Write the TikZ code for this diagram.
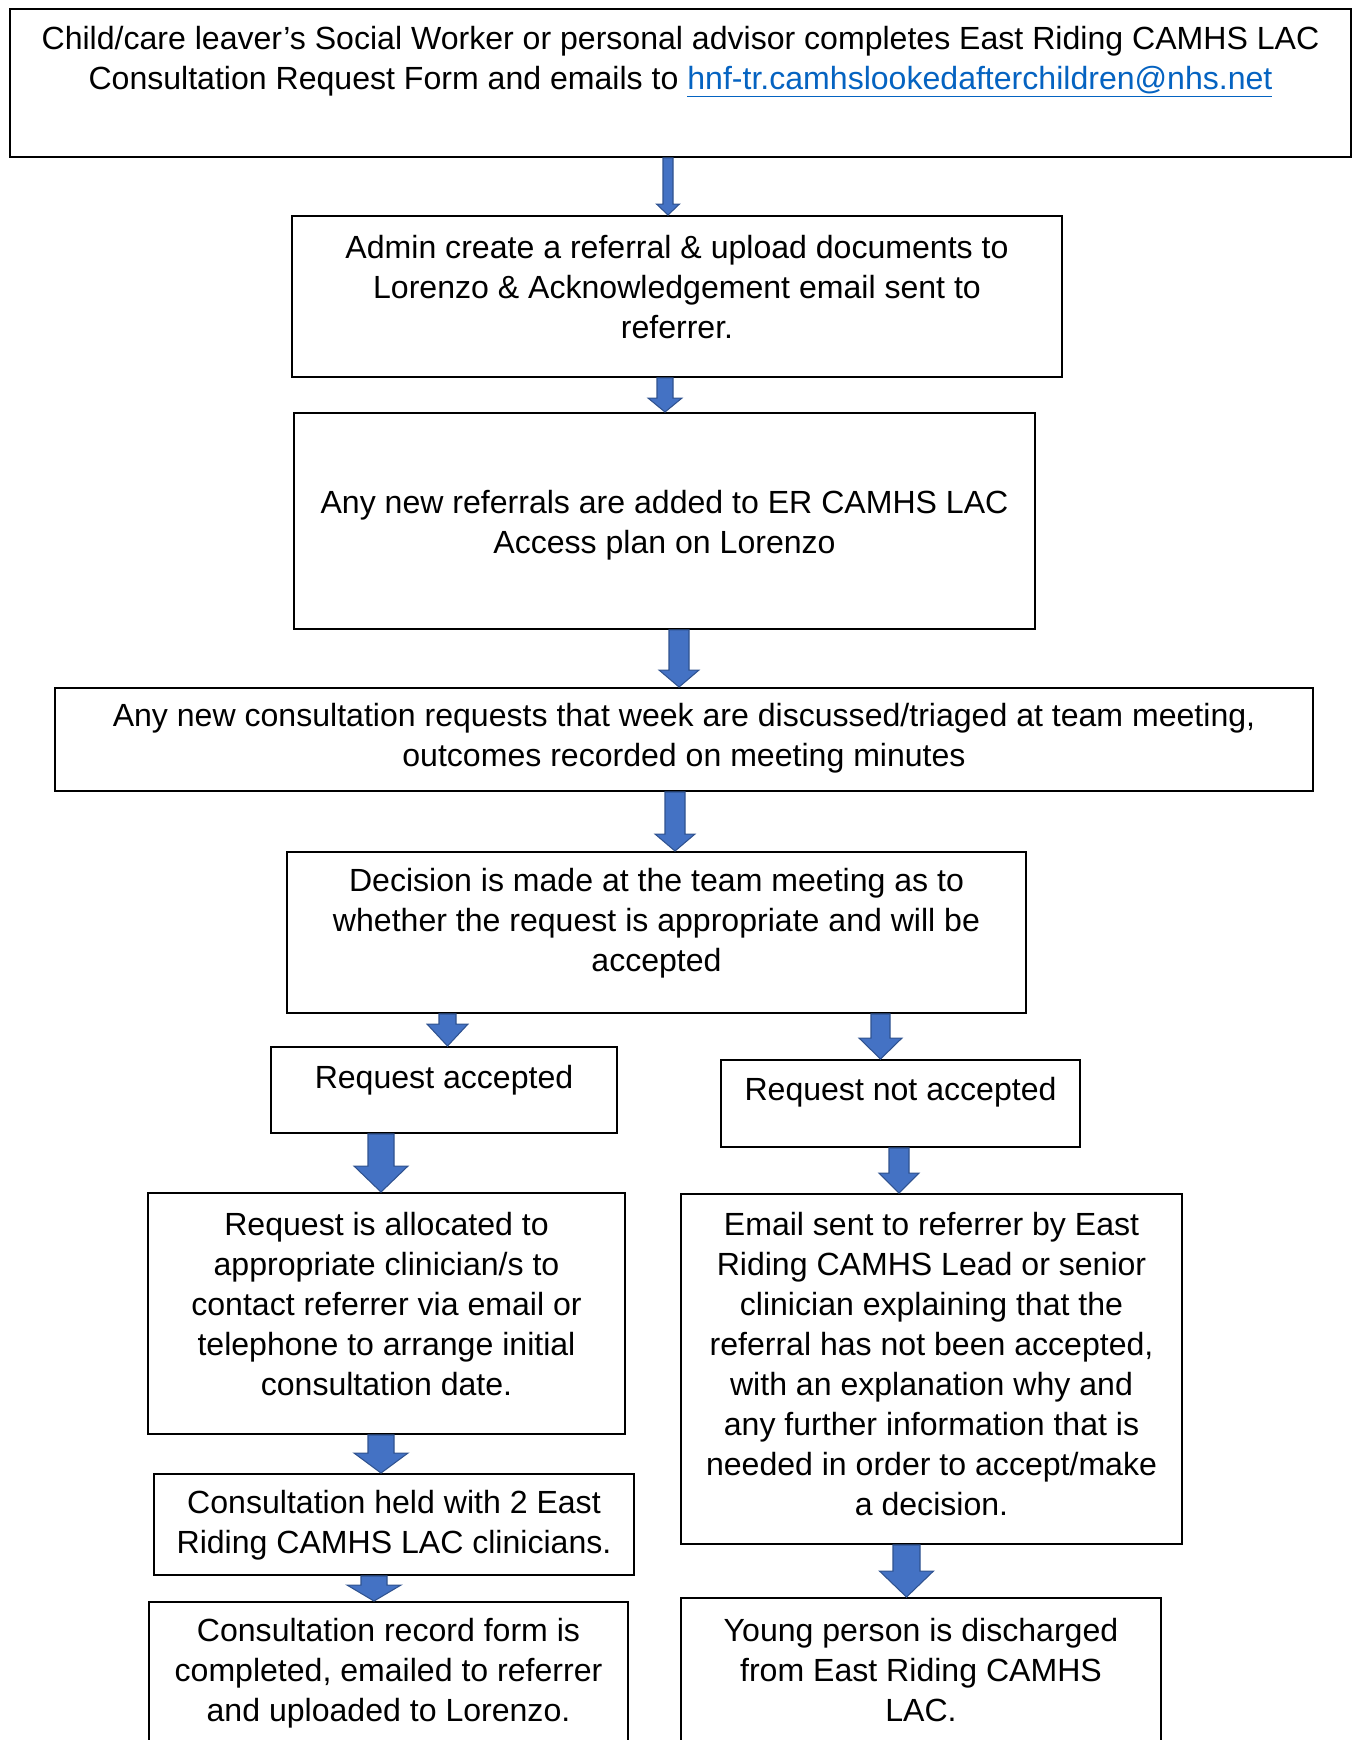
\documentclass[tikz,border=0pt]{standalone}
\usepackage{fontspec}
\setmainfont{Liberation Sans}
\usepackage{tikz}
\usetikzlibrary{calc}
\definecolor{linkblue}{RGB}{5, 99, 193}
\definecolor{arrowfill}{RGB}{68, 114, 196}
\definecolor{arrowedge}{RGB}{47, 82, 143}
\def\px{0.02cm}
\tikzset{
	boxframe/.style={draw=black,line width=1.1pt,rectangle,fill=white,inner sep=0pt},
	boxtext/.style={align=center,inner sep=0pt,font=\fontsize{18.25}{22.76}\selectfont},
	blockarrow/.style={fill=arrowfill,draw=arrowedge,line width=0.6pt,line join=miter}
}
\newcommand{\flowbox}[7]{\node[boxframe,minimum width={(#4-#2)*\px},minimum height={(#5-#3)*\px}] (#1) at ({(#2+#4)/2},{(#3+#5)/2}) {};
	\node[boxtext] (#1-text) at ({(#2+#4)/2},#6+1) {#7}; }
\newcommand{\flowarrow}[6]{\coordinate (#1-#2-out) at (#3,0 |- #1.south);
	\coordinate (#1-#2-in) at (#3,0 |- #2.north);
	\path[blockarrow] ($(#1-#2-out)+(-#4,0)$) -- ++({2*#4},0) -- ($(#1-#2-in)+(#4,-#6)$) -- ++({#5-#4},0) -- (#1-#2-in) -- ++(-#5,-#6) -- ++({#5-#4},0) -- cycle; }

\begin{document}
\begin{tikzpicture}[x=0.02cm,y=-0.02cm]
				\useasboundingbox (0,0) rectangle (1355,1740);
				\clip (0,0) rectangle (1355,1740);

				\flowbox{referral}{10}{9}{1351}{157}{61}{Child/care leaver’s Social Worker or personal advisor completes East Riding CAMHS LAC\\Consultation Request Form and emails to {\color{linkblue}\underline{hnf-tr.camhslookedafterchildren@nhs.net}}}
				\flowbox{admin}{292}{216}{1062}{377}{286}{Admin create a referral \& upload documents to\\Lorenzo \& Acknowledgement email sent to\\referrer.}
				\flowbox{access}{294}{413}{1035}{629}{524}{Any new referrals are added to ER CAMHS LAC\\Access plan on Lorenzo}
				\flowbox{triage}{55}{688}{1313}{791}{737}{Any new consultation requests that week are discussed/triaged at team meeting,\\outcomes recorded on meeting minutes}
				\flowbox{decision}{287}{852}{1026}{1013}{922}{Decision is made at the team meeting as to\\whether the request is appropriate and will be\\accepted}
				\flowbox{accepted}{271}{1047}{617}{1133}{1079}{Request accepted}
				\flowbox{rejected}{721}{1060}{1080}{1147}{1091}{Request not accepted}
				\flowbox{allocate}{148}{1193}{625}{1434}{1303}{Request is allocated to\\appropriate clinician/s to\\contact referrer via email or\\telephone to arrange initial\\consultation date.}
				\flowbox{explain}{681}{1194}{1182}{1544}{1363}{Email sent to referrer by East\\Riding CAMHS Lead or senior\\clinician explaining that the\\referral has not been accepted,\\with an explanation why and\\any further information that is\\needed in order to accept/make\\a decision.}
				\flowbox{consult}{154}{1474}{634}{1575}{1524}{Consultation held with 2 East\\Riding CAMHS LAC clinicians.}
				\flowbox{record}{149}{1602}{628}{1790}{1672}{Consultation record form is\\completed, emailed to referrer\\and uploaded to Lorenzo.}
				\flowbox{discharge}{681}{1598}{1161}{1790}{1669}{Young person is discharged\\from East Riding CAMHS\\LAC.}

				\flowarrow{referral}{admin}{668}{5}{11.5}{11}
				\flowarrow{admin}{access}{665}{8}{17}{14}
				\flowarrow{access}{triage}{679}{10}{20}{17}
				\flowarrow{triage}{decision}{675}{10}{20}{17}
				\flowarrow{decision}{accepted}{447.5}{8.5}{20.5}{22}
				\flowarrow{decision}{rejected}{880.5}{9.5}{21.5}{21}
				\flowarrow{accepted}{allocate}{381}{13}{27}{26}
				\flowarrow{rejected}{explain}{899}{10}{20}{20}
				\flowarrow{allocate}{consult}{381}{13}{27}{20}
				\flowarrow{consult}{record}{374}{13}{27}{16}
				\flowarrow{explain}{discharge}{906.5}{13.5}{27}{26}
			\end{tikzpicture}
\end{document}
